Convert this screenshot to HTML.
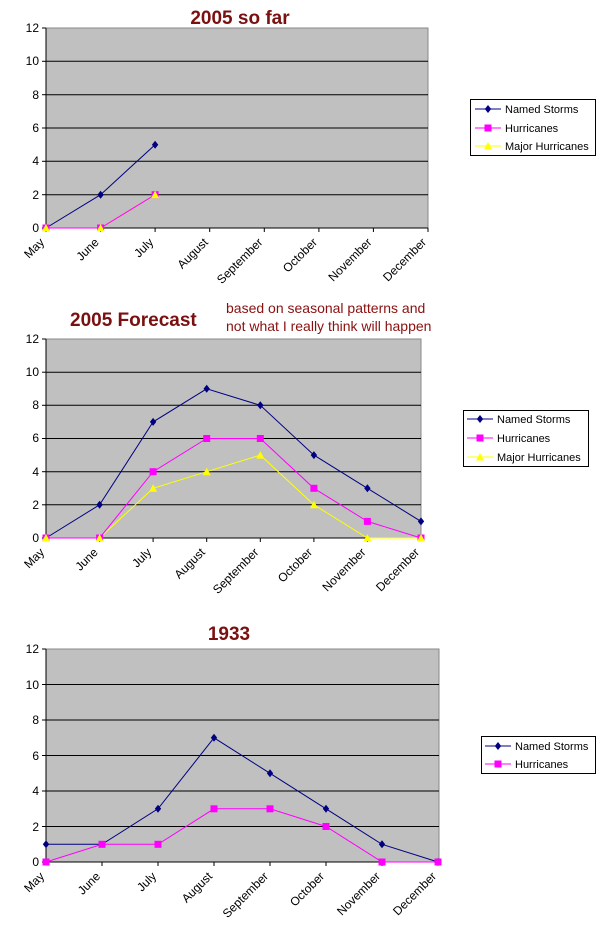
<!DOCTYPE html>
<html><head><meta charset="utf-8"><style>
html,body{margin:0;padding:0;background:#fff;}
svg{display:block;font-family:"Liberation Sans",Arial,sans-serif;}
.yl{font-size:12px;text-anchor:end;fill:#000}
.xl{font-size:12px;text-anchor:end;fill:#000}
.tt{font-size:19px;font-weight:bold;fill:#7a1010}
.lg{font-size:11px;fill:#000}
</style></head><body>
<svg width="609" height="946" viewBox="0 0 609 946" xmlns="http://www.w3.org/2000/svg">
<defs>
<g id="dia"><path d="M0,-4 L3.2,0 L0,4 L-3.2,0Z" fill="#000080"/></g>
<g id="sq"><rect x="-3.5" y="-3.5" width="7" height="7" fill="#ff00ff"/></g>
<g id="tri"><path d="M0,-4 L4,3.5 L-4,3.5Z" fill="#ffff00"/></g>
</defs>

<!-- Chart 1 -->
<text class="tt" x="240" y="24" text-anchor="middle">2005 so far</text>
<rect x="46" y="28" width="382" height="200" fill="#c0c0c0" stroke="#888" stroke-width="1"/>
<g stroke="#000" stroke-width="1">
<line x1="46" y1="61.3" x2="428" y2="61.3"/><line x1="46" y1="94.7" x2="428" y2="94.7"/>
<line x1="46" y1="128" x2="428" y2="128"/><line x1="46" y1="161.3" x2="428" y2="161.3"/>
<line x1="46" y1="194.7" x2="428" y2="194.7"/>
<line x1="46" y1="28" x2="46" y2="228"/><line x1="46" y1="228" x2="428" y2="228"/>
<line x1="46" y1="228" x2="46" y2="232"/><line x1="100.6" y1="228" x2="100.6" y2="232"/><line x1="155.1" y1="228" x2="155.1" y2="232"/><line x1="209.7" y1="228" x2="209.7" y2="232"/><line x1="264.3" y1="228" x2="264.3" y2="232"/><line x1="318.9" y1="228" x2="318.9" y2="232"/><line x1="373.4" y1="228" x2="373.4" y2="232"/><line x1="428" y1="228" x2="428" y2="232"/>
<line x1="42" y1="28" x2="46" y2="28"/><line x1="42" y1="61.3" x2="46" y2="61.3"/><line x1="42" y1="94.7" x2="46" y2="94.7"/><line x1="42" y1="128" x2="46" y2="128"/><line x1="42" y1="161.3" x2="46" y2="161.3"/><line x1="42" y1="194.7" x2="46" y2="194.7"/><line x1="42" y1="228" x2="46" y2="228"/>
</g>
<g class="yl"><text x="39" y="32">12</text><text x="39" y="65">10</text><text x="39" y="99">8</text><text x="39" y="132">6</text><text x="39" y="165">4</text><text x="39" y="199">2</text><text x="39" y="232">0</text></g>
<g class="xl">
<text transform="translate(45,243) rotate(-45)">May</text>
<text transform="translate(99.6,243) rotate(-45)">June</text>
<text transform="translate(154.1,243) rotate(-45)">July</text>
<text transform="translate(208.7,243) rotate(-45)">August</text>
<text transform="translate(263.3,243) rotate(-45)">September</text>
<text transform="translate(317.9,243) rotate(-45)">October</text>
<text transform="translate(372.4,243) rotate(-45)">November</text>
<text transform="translate(427,243) rotate(-45)">December</text>
</g>
<polyline points="46,228 100.6,228 155.1,194.7" fill="none" stroke="#ffff00" stroke-width="1"/>
<polyline points="46,228 100.6,228 155.1,194.7" fill="none" stroke="#ff00ff" stroke-width="1"/>
<polyline points="46,228 100.6,194.7 155.1,144.7" fill="none" stroke="#000080" stroke-width="1"/>
<use href="#sq" x="46" y="228"/><use href="#sq" x="100.6" y="228"/><use href="#sq" x="155.1" y="194.7"/>
<use href="#tri" x="46" y="228"/><use href="#tri" x="100.6" y="228"/><use href="#tri" x="155.1" y="194.7"/>
<use href="#dia" x="100.6" y="194.7"/><use href="#dia" x="155.1" y="144.7"/>
<rect x="470.5" y="99.5" width="125" height="56" fill="#fff" stroke="#000"/>
<line x1="475" y1="109" x2="501" y2="109" stroke="#000080"/><use href="#dia" x="488" y="109"/><text class="lg" x="505" y="113">Named Storms</text>
<line x1="475" y1="128" x2="501" y2="128" stroke="#ff00ff"/><use href="#sq" x="488" y="128"/><text class="lg" x="505" y="132">Hurricanes</text>
<line x1="475" y1="146" x2="501" y2="146" stroke="#ffff00"/><use href="#tri" x="488" y="146"/><text class="lg" x="505" y="150">Major Hurricanes</text>

<!-- Chart 2 -->
<text class="tt" x="70" y="326">2005 Forecast</text>
<text x="226" y="313" style="font-size:14px;fill:#8a1010">based on seasonal patterns and</text>
<text x="226" y="331" style="font-size:14px;fill:#8a1010">not what I really think will happen</text>
<rect x="46" y="339" width="375" height="199" fill="#c0c0c0" stroke="#888"/>
<g stroke="#000" stroke-width="1">
<line x1="46" y1="372.2" x2="421" y2="372.2"/><line x1="46" y1="405.3" x2="421" y2="405.3"/><line x1="46" y1="438.5" x2="421" y2="438.5"/><line x1="46" y1="471.7" x2="421" y2="471.7"/><line x1="46" y1="504.8" x2="421" y2="504.8"/>
<line x1="46" y1="339" x2="46" y2="538"/><line x1="46" y1="538" x2="421" y2="538"/>
<line x1="99.6" y1="538" x2="99.6" y2="542"/><line x1="153.1" y1="538" x2="153.1" y2="542"/><line x1="206.7" y1="538" x2="206.7" y2="542"/><line x1="260.3" y1="538" x2="260.3" y2="542"/><line x1="313.9" y1="538" x2="313.9" y2="542"/><line x1="367.4" y1="538" x2="367.4" y2="542"/>
<line x1="42" y1="339" x2="46" y2="339"/><line x1="42" y1="372.2" x2="46" y2="372.2"/><line x1="42" y1="405.3" x2="46" y2="405.3"/><line x1="42" y1="438.5" x2="46" y2="438.5"/><line x1="42" y1="471.7" x2="46" y2="471.7"/><line x1="42" y1="504.8" x2="46" y2="504.8"/><line x1="42" y1="538" x2="46" y2="538"/>
</g>
<g class="yl"><text x="39" y="343">12</text><text x="39" y="376">10</text><text x="39" y="409">8</text><text x="39" y="442">6</text><text x="39" y="476">4</text><text x="39" y="509">2</text><text x="39" y="542">0</text></g>
<g class="xl">
<text transform="translate(45,553) rotate(-45)">May</text>
<text transform="translate(98.6,553) rotate(-45)">June</text>
<text transform="translate(152.1,553) rotate(-45)">July</text>
<text transform="translate(205.7,553) rotate(-45)">August</text>
<text transform="translate(259.3,553) rotate(-45)">September</text>
<text transform="translate(312.9,553) rotate(-45)">October</text>
<text transform="translate(366.4,553) rotate(-45)">November</text>
<text transform="translate(420,553) rotate(-45)">December</text>
</g>
<polyline points="46,538 99.6,538 153.1,488.3 206.7,471.7 260.3,455.1 313.9,504.8 367.4,538 421,538" fill="none" stroke="#ffff00"/>
<polyline points="46,538 99.6,538 153.1,471.7 206.7,438.5 260.3,438.5 313.9,488.3 367.4,521.4 421,538" fill="none" stroke="#ff00ff"/>
<polyline points="46,538 99.6,504.8 153.1,421.9 206.7,388.8 260.3,405.3 313.9,455.1 367.4,488.3 421,521.4" fill="none" stroke="#000080"/>
<use href="#sq" x="46" y="538"/><use href="#sq" x="99.6" y="538"/><use href="#sq" x="153.1" y="471.7"/><use href="#sq" x="206.7" y="438.5"/><use href="#sq" x="260.3" y="438.5"/><use href="#sq" x="313.9" y="488.3"/><use href="#sq" x="367.4" y="521.4"/><use href="#sq" x="421" y="538"/>
<use href="#tri" x="46" y="538"/><use href="#tri" x="99.6" y="538"/><use href="#tri" x="153.1" y="488.3"/><use href="#tri" x="206.7" y="471.7"/><use href="#tri" x="260.3" y="455.1"/><use href="#tri" x="313.9" y="504.8"/><use href="#tri" x="367.4" y="538"/><use href="#tri" x="421" y="538"/>
<use href="#dia" x="99.6" y="504.8"/><use href="#dia" x="153.1" y="421.9"/><use href="#dia" x="206.7" y="388.8"/><use href="#dia" x="260.3" y="405.3"/><use href="#dia" x="313.9" y="455.1"/><use href="#dia" x="367.4" y="488.3"/><use href="#dia" x="421" y="521.4"/>
<rect x="463.5" y="410.5" width="125" height="56" fill="#fff" stroke="#000"/>
<line x1="467" y1="419" x2="493" y2="419" stroke="#000080"/><use href="#dia" x="480" y="419"/><text class="lg" x="497" y="423">Named Storms</text>
<line x1="467" y1="438" x2="493" y2="438" stroke="#ff00ff"/><use href="#sq" x="480" y="438"/><text class="lg" x="497" y="442">Hurricanes</text>
<line x1="467" y1="457" x2="493" y2="457" stroke="#ffff00"/><use href="#tri" x="480" y="457"/><text class="lg" x="497" y="461">Major Hurricanes</text>

<!-- Chart 3 -->
<text class="tt" x="229" y="640" text-anchor="middle">1933</text>
<rect x="46" y="649" width="393" height="213" fill="#c0c0c0" stroke="#888"/>
<g stroke="#000" stroke-width="1">
<line x1="46" y1="684.5" x2="439" y2="684.5"/><line x1="46" y1="720" x2="439" y2="720"/><line x1="46" y1="755.5" x2="439" y2="755.5"/><line x1="46" y1="791" x2="439" y2="791"/><line x1="46" y1="826.5" x2="439" y2="826.5"/>
<line x1="46" y1="649" x2="46" y2="862"/><line x1="46" y1="862" x2="439" y2="862"/>
<line x1="102" y1="862" x2="102" y2="866"/><line x1="158" y1="862" x2="158" y2="866"/><line x1="214" y1="862" x2="214" y2="866"/><line x1="270" y1="862" x2="270" y2="866"/><line x1="326" y1="862" x2="326" y2="866"/><line x1="382" y1="862" x2="382" y2="866"/>
<line x1="42" y1="649" x2="46" y2="649"/><line x1="42" y1="684.5" x2="46" y2="684.5"/><line x1="42" y1="720" x2="46" y2="720"/><line x1="42" y1="755.5" x2="46" y2="755.5"/><line x1="42" y1="791" x2="46" y2="791"/><line x1="42" y1="826.5" x2="46" y2="826.5"/><line x1="42" y1="862" x2="46" y2="862"/>
</g>
<g class="yl"><text x="39" y="653">12</text><text x="39" y="689">10</text><text x="39" y="724">8</text><text x="39" y="760">6</text><text x="39" y="795">4</text><text x="39" y="831">2</text><text x="39" y="866">0</text></g>
<g class="xl">
<text transform="translate(45,877) rotate(-45)">May</text>
<text transform="translate(101,877) rotate(-45)">June</text>
<text transform="translate(157,877) rotate(-45)">July</text>
<text transform="translate(213,877) rotate(-45)">August</text>
<text transform="translate(269,877) rotate(-45)">September</text>
<text transform="translate(325,877) rotate(-45)">October</text>
<text transform="translate(381,877) rotate(-45)">November</text>
<text transform="translate(437,877) rotate(-45)">December</text>
</g>
<polyline points="46,862 102,844.3 158,844.3 214,808.8 270,808.8 326,826.5 382,862 438,862" fill="none" stroke="#ff00ff"/>
<polyline points="46,844.3 102,844.3 158,808.8 214,737.8 270,773.3 326,808.8 382,844.3 438,862" fill="none" stroke="#000080"/>
<use href="#dia" x="46" y="844.3"/><use href="#dia" x="158" y="808.8"/><use href="#dia" x="214" y="737.8"/><use href="#dia" x="270" y="773.3"/><use href="#dia" x="326" y="808.8"/><use href="#dia" x="382" y="844.3"/><use href="#dia" x="438" y="862"/>
<use href="#sq" x="46" y="862"/><use href="#sq" x="102" y="844.3"/><use href="#sq" x="158" y="844.3"/><use href="#sq" x="214" y="808.8"/><use href="#sq" x="270" y="808.8"/><use href="#sq" x="326" y="826.5"/><use href="#sq" x="382" y="862"/><use href="#sq" x="438" y="862"/>
<rect x="481.5" y="736.5" width="114" height="37" fill="#fff" stroke="#000"/>
<line x1="485" y1="746" x2="511" y2="746" stroke="#000080"/><use href="#dia" x="498" y="746"/><text class="lg" x="515" y="750">Named Storms</text>
<line x1="485" y1="764" x2="511" y2="764" stroke="#ff00ff"/><use href="#sq" x="498" y="764"/><text class="lg" x="515" y="768">Hurricanes</text>
</svg>
</body></html>
